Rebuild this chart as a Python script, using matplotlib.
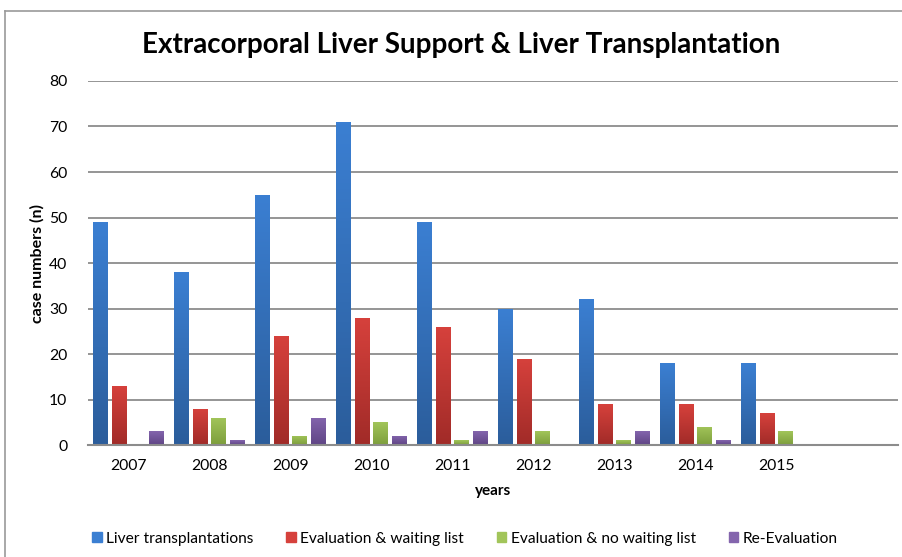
import numpy as np
import matplotlib
matplotlib.use("Agg")
import matplotlib.pyplot as plt
from matplotlib.colors import LinearSegmentedColormap
from matplotlib.lines import Line2D

plt.rcParams['font.family'] = ['Lato', 'DejaVu Sans']

years = ['2007', '2008', '2009', '2010', '2011', '2012', '2013', '2014', '2015']
liver_tx = [49, 38, 55, 71, 49, 30, 32, 18, 18]
eval_wait = [13, 8, 24, 28, 26, 19, 9, 9, 7]
eval_nowait = [0, 6, 2, 5, 1, 3, 1, 4, 3]
re_eval = [3, 1, 6, 2, 3, 0, 3, 1, 0]

series = [liver_tx, eval_wait, eval_nowait, re_eval]
labels = ['Liver transplantations', 'Evaluation & waiting list',
          'Evaluation & no waiting list', 'Re-Evaluation']
# (top colour, bottom colour) for the gradient fill
grads = [('#3b7fd2', '#2b5d9b'), ('#d6413c', '#a12b28'),
         ('#a2c55a', '#7d9e3c'), ('#8465ad', '#5f4585')]

fig = plt.figure(figsize=(9.03, 5.57), dpi=100)
ax = fig.add_axes([0.0975, 0.201, 0.897, 0.6536])

x = np.arange(len(years))
step = 0.23
width = 0.185
for i, vals in enumerate(series):
    top, bot = grads[i]
    cmap = LinearSegmentedColormap.from_list('g%d' % i, [bot, top])
    bars = ax.bar(x + (i - 1.5) * step, vals, width, color=top, zorder=2,
                  label=labels[i])
    for b in bars:
        h = b.get_height()
        if h <= 0:
            continue
        b.set_facecolor('none')
        x0 = b.get_x()
        img = ax.imshow(np.linspace(0, 1, 100).reshape(-1, 1), cmap=cmap,
                        origin='lower', aspect='auto',
                        extent=(x0, x0 + width, 0, h), zorder=2)
        img.set_clip_path(b)

ax.set_xlim(-0.5, 9.5)
ax.set_ylim(0, 80)
ax.set_yticks(range(0, 81, 10))
ax.set_xticks(x)
ax.set_xticklabels(years)
ax.tick_params(length=0, labelsize=11.3, pad=10)
ax.tick_params(axis='y', pad=15)
ax.grid(axis='y', color='#8c8c8c', linewidth=1.3, zorder=0)
ax.set_axisbelow(True)
for s in ['top', 'right', 'left']:
    ax.spines[s].set_visible(False)
ax.spines['bottom'].set_color('#8c8c8c')
ax.spines['bottom'].set_linewidth(1.5)

ax.set_ylabel('case numbers (n)', fontsize=11.5, fontweight='bold', labelpad=3)
ax.set_xlabel('years', fontsize=11, fontweight='bold', labelpad=8)
fig.text(0.511, 0.92, 'Extracorporal Liver Support & Liver Transplantation',
         ha='center', va='center', fontsize=20, fontweight='bold')

handles = [plt.Rectangle((0, 0), 1, 1, color=g[0]) for g in grads]
fig.legend(handles, labels, loc='center', bbox_to_anchor=(0.515, 0.033),
           ncol=4, frameon=False, fontsize=11.2, handlelength=0.6,
           handleheight=0.6, handletextpad=0.3, columnspacing=2.1)

# outer frame (top and left edges visible)
fig.add_artist(Line2D([5 / 903, 1.0], [1 - 11 / 557] * 2, color='#9a9a9a',
                      linewidth=1.2, transform=fig.transFigure))
fig.add_artist(Line2D([5 / 903] * 2, [0, 1 - 11 / 557], color='#9a9a9a',
                      linewidth=1.2, transform=fig.transFigure))

fig.savefig('out.png', dpi=100)
